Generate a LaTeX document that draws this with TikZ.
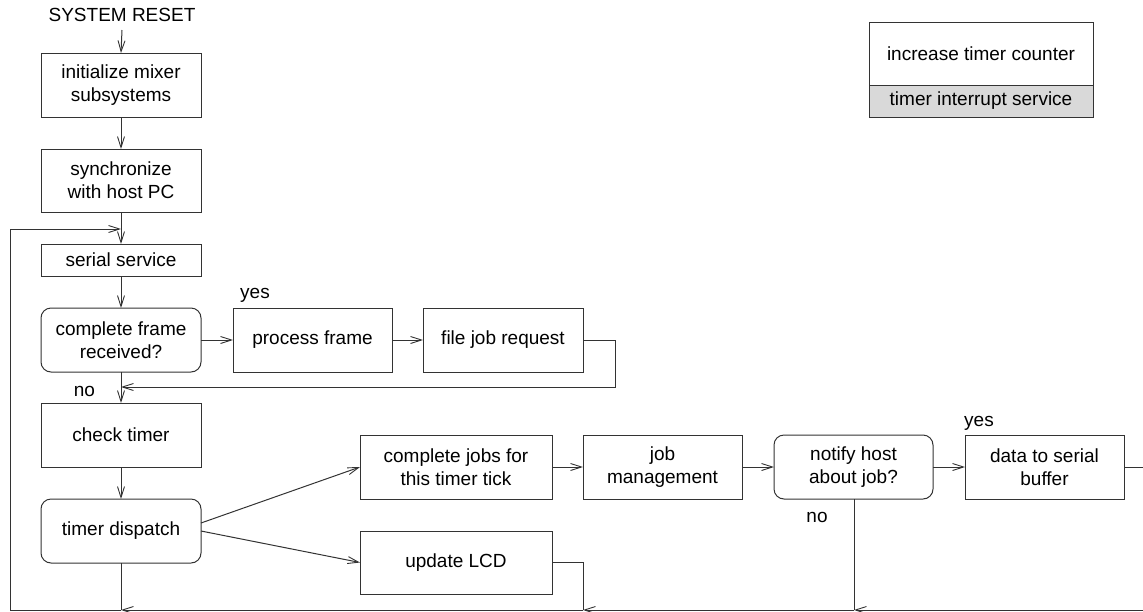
\documentclass[tikz,border=0pt]{standalone}
\usepackage{fontspec}
\setmainfont{Liberation Sans}
\usetikzlibrary{arrows.meta}
\definecolor{boxgray}{HTML}{D9D9D9}
\definecolor{linecol}{HTML}{333333}
\begin{document}
\begin{tikzpicture}[x=1pt,y=-1pt,
  font=\fontsize{19}{23}\selectfont,
  every node/.style={inner sep=0pt, outer sep=0pt},
  box/.style={draw=linecol, line width=1pt, minimum width=160pt, align=center},
  rbox/.style={box, rounded corners=10pt},
  lbl/.style={},
  conn/.style={draw=linecol, line width=1pt},
  arr/.style={conn, -{Straight Barb[length=11pt,width=7pt,line width=0.9pt]}}
]
\useasboundingbox (0,0) rectangle (1143,611);

% main column
\node[lbl] (reset) at (122,15) {SYSTEM RESET};
\node[box, minimum height=64pt] (init) at (121,85) {initialize mixer\\subsystems};
\node[box, minimum height=63pt] (sync) at (121,180.5) {synchronize\\with host PC};
\node[box, minimum height=32pt] (serial) at (121,260) {serial service};
\node[rbox, minimum height=64pt] (frame) at (121,340) {complete frame\\received?};
\node[box, minimum height=64pt] (check) at (121,435) {check timer};
\node[rbox, minimum height=64pt] (dispatch) at (121,531) {timer dispatch};

% frame branch
\node[box, minimum width=159pt, minimum height=64pt] (process) at (312.5,340) {process frame};
\node[box, minimum height=64pt] (filejob) at (503,340) {file job request};

% timer branch
\node[box, minimum width=192pt, minimum height=64pt] (jobs) at (456,467) {complete jobs for\\this timer tick};
\node[box, minimum width=192pt, minimum height=63pt] (lcd) at (456,562.5) {update LCD};
\node[box, minimum width=159pt, minimum height=64pt] (jobmgmt) at (662.5,467) {job\\management};
\node[rbox, minimum width=159pt, minimum height=64pt] (notify) at (853.5,467) {notify host\\about job?};
\node[box, minimum width=159pt, minimum height=64pt] (data) at (1044.5,467) {data to serial\\buffer};

% interrupt service box
\node[box, minimum width=224pt, minimum height=63pt] (incr) at (981,53.5) {increase timer counter};
\node[box, fill=boxgray, minimum width=224pt, minimum height=32pt] (isr) at (981,101) {timer interrupt service};

% labels
\node[lbl] (yes1) at (255,295) {yes};
\node[lbl] (no1) at (84.5,391) {no};
\node[lbl] (yes2) at (979,423) {yes};
\node[lbl] (no2) at (817,517) {no};

% coordinates
\coordinate (loopin) at (121,229);
\coordinate (loopcorner) at (10,229);
\coordinate (bl) at (10,610);
\coordinate (b1) at (121,610);
\coordinate (b2) at (583,610);
\coordinate (b3) at (854,610);
\coordinate (b4) at (1143,610);
\coordinate (fr1) at (615,340);
\coordinate (fr2) at (615,387);
\coordinate (frj) at (121,387);
\coordinate (lcdc) at (583,562.5);
\coordinate (dataout) at (1143,467);

% connectors
\draw[arr] (reset.south |- 0,30) -- (init.north);
\draw[arr] (init.south) -- (sync.north);
\draw[arr] (sync.south) -- (serial.north);
\draw[arr] (serial.south) -- (frame.north);
\draw[arr] (frame.south) -- (check.north);
\draw[arr] (check.south) -- (dispatch.north);

\draw[arr] (frame.east) -- (process.west);
\draw[arr] (process.east) -- (filejob.west);
\draw[arr] (filejob.east) -- (fr1) -- (fr2) -- (frj);

\draw[arr] ([yshift=8pt]dispatch.east) -- (jobs.west);
\draw[arr] (dispatch.east) -- (lcd.west);
\draw[arr] (jobs.east) -- (jobmgmt.west);
\draw[arr] (jobmgmt.east) -- (notify.west);
\draw[arr] (notify.east) -- (data.west);
\draw[conn] (data.east) -- (dataout);

\draw[conn] (dispatch.south) -- (b1);
\draw[conn] (lcd.east) -- (lcdc) -- (b2);
\draw[conn] (notify.south -| b3) -- (b3);

\draw[arr] (b4) -- (b3);
\draw[arr] (b3) -- (b2);
\draw[arr] (b2) -- (b1);
\draw[arr] (b1) -- (bl) -- (loopcorner) -- (loopin);
\end{tikzpicture}
\end{document}
